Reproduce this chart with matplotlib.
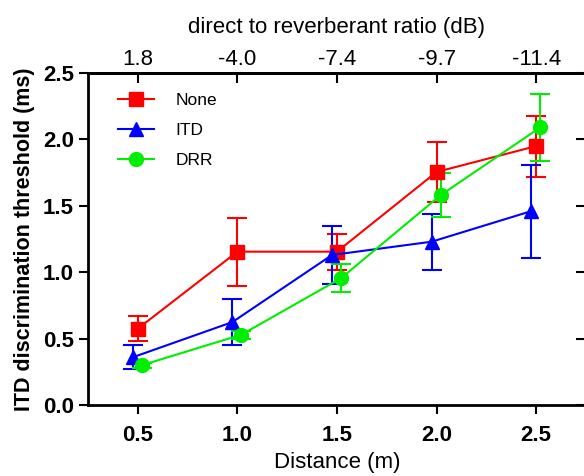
import matplotlib
matplotlib.use("Agg")
import matplotlib.pyplot as plt

plt.rcParams['font.family'] = ['Liberation Sans', 'DejaVu Sans']

# data
distance = [0.5, 1.0, 1.5, 2.0, 2.5]
drr_labels = ['1.8', '-4.0', '-7.4', '-9.7', '-11.4']

none_mean = [0.575, 1.155, 1.155, 1.755, 1.95]
none_err = [0.095, 0.255, 0.135, 0.225, 0.23]

itd_mean = [0.36, 0.625, 1.13, 1.23, 1.46]
itd_err = [0.09, 0.175, 0.22, 0.21, 0.35]

drr_mean = [0.30, 0.53, 0.955, 1.58, 2.09]
drr_err = [0.02, 0.03, 0.105, 0.165, 0.25]

series = [
    ('None', none_mean, none_err, '#ff0000', 's', 0.0),
    ('ITD', itd_mean, itd_err, '#0000ff', '^', -0.025),
    ('DRR', drr_mean, drr_err, '#00ee00', 'o', 0.02),
]

fig = plt.figure(figsize=(5.84, 4.76), dpi=100)
ax = fig.add_axes([0.1507, 0.149, 0.8527, 0.6976])

for name, mean, err, color, marker, shift in series:
    xs = [d + shift for d in distance]
    ax.errorbar(xs, mean, yerr=err, fmt='none', ecolor=color,
                elinewidth=1.5, capsize=7, capthick=1.5, zorder=2)
    ax.plot(xs, mean, color=color, marker=marker, markersize=10,
            linewidth=1.5, label=name, zorder=3)

ax.set_xlim(0.25, 2.75)
ax.set_ylim(0, 2.5)
ax.set_xticks(distance)
ax.set_xticklabels([f'{d:.1f}' for d in distance])
ax.set_yticks([0, 0.5, 1.0, 1.5, 2.0, 2.5])
ax.set_yticklabels([f'{v:.1f}' for v in [0, 0.5, 1.0, 1.5, 2.0, 2.5]])

for side in ['left', 'bottom', 'top', 'right']:
    ax.spines[side].set_linewidth(2)

ax.tick_params(axis='both', direction='out', length=6.5, width=1.5,
               labelsize=16)
ax.tick_params(axis='x', pad=8)
for lab in ax.get_xticklabels() + ax.get_yticklabels():
    lab.set_fontweight('bold')

ax.set_xlabel('Distance (m)', fontsize=16, labelpad=4)
ax.set_ylabel('ITD discrimination threshold (ms)', fontsize=15.5,
              fontweight='bold', labelpad=6)

# top axis: direct to reverberant ratio
top = ax.secondary_xaxis('top')
top.set_xticks(distance)
top.set_xticklabels(drr_labels)
top.tick_params(direction='in', length=7, width=1.5, labelsize=16, pad=2)
top.spines['top'].set_linewidth(2)
top.set_xlabel('direct to reverberant ratio (dB)', fontsize=16, labelpad=12)

# right axis ticks only
right = ax.secondary_yaxis('right')
right.set_yticks([0, 0.5, 1.0, 1.5, 2.0, 2.5])
right.set_yticklabels([])
right.tick_params(direction='in', length=7, width=1.5)

ax.legend(loc='upper left', bbox_to_anchor=(0.06, 0.94), frameon=False,
          fontsize=12.5, borderpad=0, borderaxespad=0, handlelength=2.1,
          handletextpad=1.2, labelspacing=0.85)

fig.savefig('out.png', dpi=100)
